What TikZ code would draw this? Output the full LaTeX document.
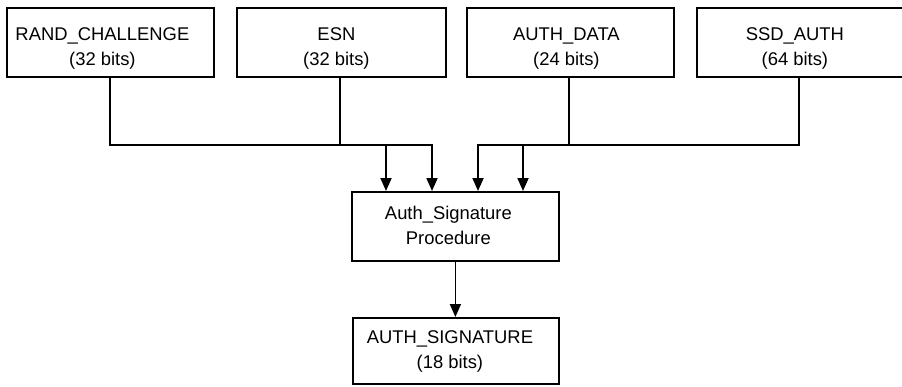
\documentclass[tikz,border=0pt]{standalone}
\usepackage{fontspec}
\setmainfont{Liberation Sans}
\usetikzlibrary{arrows.meta}
\begin{document}
\begin{tikzpicture}[x=1pt,y=-1pt,
  box/.style={draw, line width=1.8pt, inner sep=0pt, minimum width=#1, minimum height=69pt, anchor=north west},
  lbl/.style={font=\fontsize{18.4pt}{25pt}\selectfont, align=center, inner sep=0pt},
  conn/.style={line width=1.8pt, -{Triangle[length=13pt,width=11pt]}}]
\useasboundingbox (0,0) rectangle (902,386);
% boxes
\node[box=207pt] (b1) at (6,7) {};
\node[box=209pt] (b2) at (236,7) {};
\node[box=207pt] (b3) at (466,7) {};
\node[box=212pt] (b4) at (696,7) {};
\node[box=207pt] (mid) at (351,191) {};
\node[box=206pt, minimum height=66pt] (bot) at (352,317) {};
% labels
\node[lbl] (t1) at ([xshift=-8pt,yshift=-6pt]b1.center) {RAND\_CHALLENGE\\(32 bits)};
\node[lbl] (t2) at ([xshift=-5pt,yshift=-6pt]b2.center) {ESN\\(32 bits)};
\node[lbl] (t3) at ([xshift=-4pt,yshift=-6pt]b3.center) {AUTH\_DATA\\(24 bits)};
\node[lbl] (t4) at ([xshift=-8pt,yshift=-6pt]b4.center) {SSD\_AUTH\\(64 bits)};
\node[lbl] (tm) at ([xshift=-7pt,yshift=1pt]mid.center) {Auth\_Signature\\Procedure};
\node[lbl] (tb) at ([xshift=-6pt,yshift=-1pt]bot.center) {AUTH\_SIGNATURE\\(18 bits)};
% connector points
\coordinate (j1) at (110,145);
\coordinate (j2) at (340,145);
\coordinate (j3) at (569,145);
\coordinate (j4) at (799,145);
\coordinate (k1) at (386,145);
\coordinate (k2) at (432,145);
\coordinate (k3) at (478,145);
\coordinate (k4) at (523,145);
\draw[conn] (j1 |- b1.south) -- (j1) -- (k1) -- (k1 |- mid.north);
\draw[conn] (j2 |- b2.south) -- (j2) -- (k2) -- (k2 |- mid.north);
\draw[conn] (j3 |- b3.south) -- (j3) -- (k3) -- (k3 |- mid.north);
\draw[conn] (j4 |- b4.south) -- (j4) -- (k4) -- (k4 |- mid.north);
\draw[conn] (mid.south) -- (mid.south |- bot.north);
\end{tikzpicture}
\end{document}
